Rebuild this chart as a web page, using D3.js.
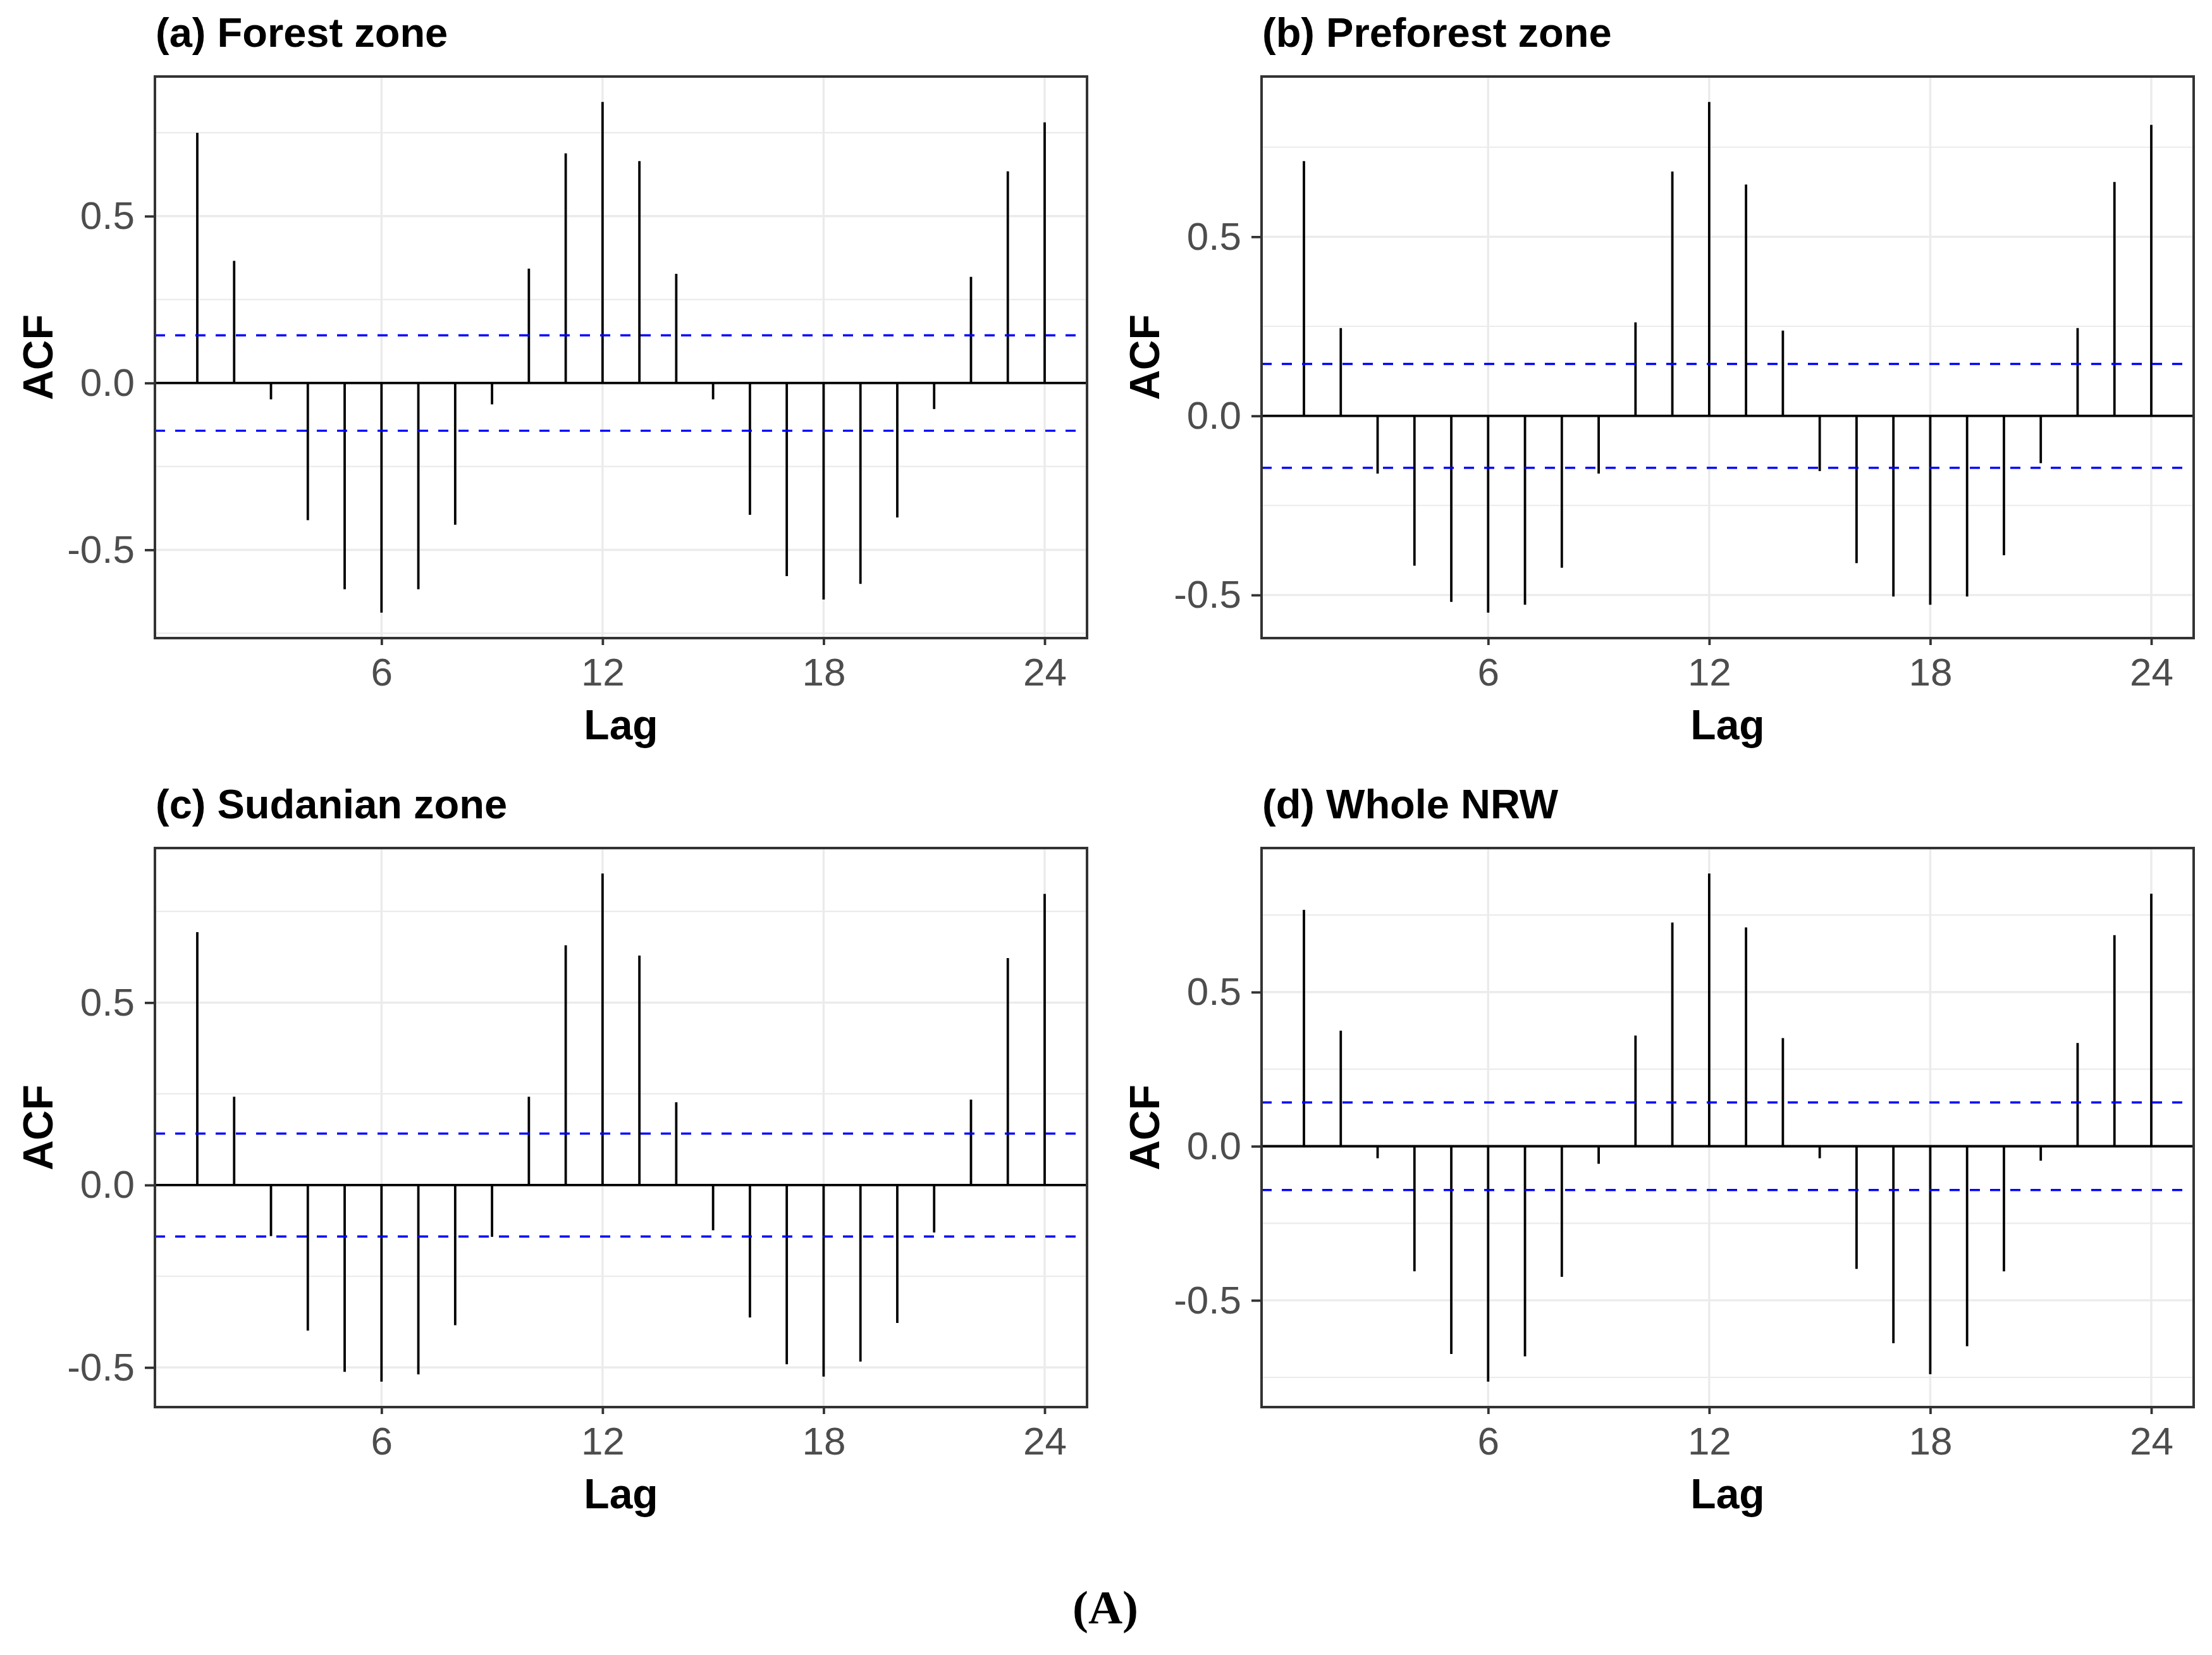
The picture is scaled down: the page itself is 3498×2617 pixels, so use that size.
<!DOCTYPE html>
<html>
<head>
<meta charset="utf-8">
<script src="https://cdn.jsdelivr.net/npm/d3@7"></script>
<style>
  html, body { margin: 0; padding: 0; background: #ffffff; }
  svg { display: block; }
</style>
</head>
<body>
<script>
// ---------------- DATA ----------------
const lags = [1,2,3,4,5,6,7,8,9,10,11,12,13,14,15,16,17,18,19,20,21,22,23,24];
const titles = ["(a) Forest zone", "(b) Preforest zone", "(c) Sudanian zone", "(d) Whole NRW"];
const forest    = [0.750,0.366,-0.049,-0.411,-0.618,-0.688,-0.618,-0.425,-0.064,0.343,0.688,0.842,0.665,0.327,-0.049,-0.395,-0.579,-0.649,-0.602,-0.403,-0.078,0.318,0.634,0.781];
const preforest = [0.711,0.245,-0.161,-0.418,-0.519,-0.549,-0.527,-0.424,-0.161,0.261,0.682,0.876,0.646,0.238,-0.154,-0.411,-0.504,-0.527,-0.504,-0.389,-0.132,0.245,0.653,0.812];
const sudanian  = [0.693,0.242,-0.140,-0.399,-0.512,-0.539,-0.519,-0.384,-0.142,0.242,0.657,0.854,0.629,0.227,-0.124,-0.363,-0.491,-0.525,-0.484,-0.378,-0.130,0.234,0.622,0.798];
const wholeNRW  = [0.767,0.375,-0.039,-0.406,-0.674,-0.764,-0.682,-0.424,-0.057,0.359,0.726,0.885,0.710,0.351,-0.039,-0.398,-0.639,-0.740,-0.649,-0.406,-0.047,0.335,0.685,0.819];
const ciBounds  = [0.143, 0.145, 0.141, 0.142];
const xTicks = [6, 12, 18, 24];
const yMajor = [-0.5, 0, 0.5];
const yMinor = [-0.75, -0.25, 0.25, 0.75];
const xLabel = "Lag";
const yLabel = "ACF";
const caption = "(A)";

// ---------------- LAYOUT ----------------
const W = 3498, H = 2617;
const colX = [[245, 1719], [1995, 3469]];
const rowY = [[121, 1009], [1341, 2225]];
const sans = "'Liberation Sans', Arial, 'DejaVu Sans', sans-serif";

const series = [forest, preforest, sudanian, wholeNRW];

const svg = d3.select("body").append("svg")
  .attr("width", W).attr("height", H)
  .attr("viewBox", `0 0 ${W} ${H}`);
svg.append("rect").attr("width", W).attr("height", H).attr("fill", "#ffffff");

series.forEach((vals, i) => {
  const [x0, x1] = colX[i % 2];
  const [y0, y1] = rowY[Math.floor(i / 2)];
  const ci = ciBounds[i];

  // x scale with ggplot-like 5% expansion
  const xExt = d3.extent(lags);
  const xPad = (xExt[1] - xExt[0]) * 0.05;
  const x = d3.scaleLinear().domain([xExt[0] - xPad, xExt[1] + xPad]).range([x0, x1]);

  const yExt = d3.extent(vals);
  const yPad = (yExt[1] - yExt[0]) * 0.05;
  const y = d3.scaleLinear().domain([yExt[0] - yPad, yExt[1] + yPad]).range([y1, y0]);
  const [dmin, dmax] = y.domain();

  const g = svg.append("g");

  // gridlines
  g.selectAll("line.minor").data(yMinor.filter(v => v > dmin && v < dmax)).join("line")
    .attr("x1", x0).attr("x2", x1)
    .attr("y1", d => y(d)).attr("y2", d => y(d))
    .attr("stroke", "#EBEBEB").attr("stroke-width", 2.2);
  g.selectAll("line.majory").data(yMajor).join("line")
    .attr("x1", x0).attr("x2", x1)
    .attr("y1", d => y(d)).attr("y2", d => y(d))
    .attr("stroke", "#EBEBEB").attr("stroke-width", 3.4);
  g.selectAll("line.majorx").data(xTicks).join("line")
    .attr("x1", d => x(d)).attr("x2", d => x(d))
    .attr("y1", y0).attr("y2", y1)
    .attr("stroke", "#EBEBEB").attr("stroke-width", 3.4);

  // zero line
  g.append("line")
    .attr("x1", x0).attr("x2", x1)
    .attr("y1", y(0)).attr("y2", y(0))
    .attr("stroke", "#000000").attr("stroke-width", 3.8);

  // ACF segments
  g.selectAll("line.seg").data(lags.map((l, k) => ({lag: l, v: vals[k]}))).join("line")
    .attr("x1", d => x(d.lag)).attr("x2", d => x(d.lag))
    .attr("y1", y(0)).attr("y2", d => y(d.v))
    .attr("stroke", "#000000").attr("stroke-width", 3.8);

  // confidence bounds
  [ci, -ci].forEach(c => {
    g.append("line")
      .attr("x1", x0).attr("x2", x1)
      .attr("y1", y(c)).attr("y2", y(c))
      .attr("stroke", "#0000FF").attr("stroke-width", 3.4)
      .attr("stroke-dasharray", "16,16");
  });

  // border
  g.append("rect")
    .attr("x", x0).attr("y", y0)
    .attr("width", x1 - x0).attr("height", y1 - y0)
    .attr("fill", "none").attr("stroke", "#333333").attr("stroke-width", 4);

  // axes
  const yAxis = d3.axisLeft(y).tickValues(yMajor).tickFormat(d => d.toFixed(1))
    .tickSize(16).tickPadding(16);
  const ya = g.append("g").attr("transform", `translate(${x0},0)`).call(yAxis);
  const xAxis = d3.axisBottom(x).tickValues(xTicks).tickFormat(d => String(d))
    .tickSize(11).tickPadding(20);
  const xa = g.append("g").attr("transform", `translate(0,${y1})`).call(xAxis);
  [ya, xa].forEach(a => {
    a.select(".domain").remove();
    a.selectAll(".tick line").attr("stroke", "#333333").attr("stroke-width", 3.8);
    a.selectAll(".tick text")
      .attr("fill", "#4D4D4D")
      .style("font-family", sans)
      .style("font-size", "62px");
  });

  // axis titles
  g.append("text")
    .attr("x", (x0 + x1) / 2).attr("y", y1 + 160)
    .attr("text-anchor", "middle")
    .style("font-family", sans).style("font-size", "66px").style("font-weight", "bold")
    .attr("fill", "#000000")
    .text(xLabel);
  g.append("text")
    .attr("transform", `translate(${x0 - 162},${(y0 + y1) / 2}) rotate(-90)`)
    .attr("text-anchor", "middle")
    .style("font-family", sans).style("font-size", "66px").style("font-weight", "bold")
    .attr("fill", "#000000")
    .text(yLabel);

  // panel title
  g.append("text")
    .attr("x", x0 + 1).attr("y", y0 - 47)
    .style("font-family", sans).style("font-size", "65px").style("font-weight", "bold")
    .attr("fill", "#000000")
    .text(titles[i]);
});

// caption
svg.append("text")
  .attr("x", 1748).attr("y", 2567)
  .attr("text-anchor", "middle")
  .style("font-family", "'Liberation Serif', 'Times New Roman', serif")
  .style("font-size", "75px").style("font-weight", "bold")
  .attr("fill", "#000000")
  .text(caption);
</script>
</body>
</html>
